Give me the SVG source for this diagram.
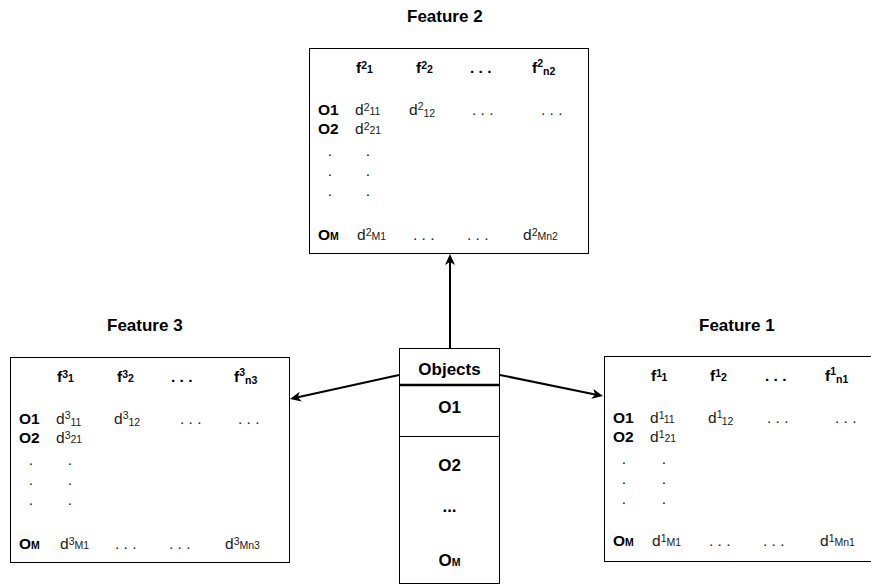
<svg xmlns="http://www.w3.org/2000/svg" width="871" height="586" viewBox="0 0 871 586">
<style>
.t{font-family:"Liberation Sans",Arial,Helvetica,sans-serif;fill:#000}
.b{font-weight:bold;font-size:15.5px}
.r{font-size:15.5px;fill:#1a1a1a}
.s{font-size:10.5px}
.title{font-weight:bold;font-size:17px}
.obj{font-weight:bold;font-size:17px;text-anchor:middle}
.m{text-anchor:middle}
.box{fill:#fff;stroke:#000;stroke-width:1}
.conn{fill:none;stroke:#000;stroke-width:2}
</style>
<defs>
<marker id="arr" markerUnits="userSpaceOnUse" viewBox="0 0 11 10" markerWidth="11" markerHeight="10" refX="3" refY="5" orient="auto">
<path d="M0,0 L11,5 L0,10 L3,5 Z" fill="#000"/>
</marker>
</defs>
<rect width="871" height="586" fill="#fff"/>

<g id="connectors">
<line class="conn" x1="450" y1="348" x2="450" y2="262" marker-end="url(#arr)"/>
<line class="conn" x1="399" y1="375" x2="297.8" y2="397.3" marker-end="url(#arr)"/>
<line class="conn" x1="500" y1="375" x2="595.2" y2="394.4" marker-end="url(#arr)"/>
</g>

<g id="feature2" transform="translate(309,48)">
<rect class="box" x="0.5" y="0.5" width="279" height="205"/>
<text class="t title" x="98" y="-26">Feature 2</text>
<text class="t b" x="47" y="25">f<tspan class="s" dy="-4.5">2</tspan><tspan class="s" dy="4.5">1</tspan></text>
<text class="t b" x="107" y="25">f<tspan class="s" dy="-4.5">2</tspan><tspan class="s" dy="4.5">2</tspan></text>
<text class="t b" x="161" y="25">. . .</text>
<text class="t b" x="223" y="25">f<tspan class="s" dy="-6">2</tspan><tspan class="s" dy="8">n2</tspan></text>
<text class="t b" x="9" y="67">O1</text>
<text class="t r" x="46" y="67">d<tspan class="s" dy="-4.5">2</tspan><tspan class="s" dy="4.5">11</tspan></text>
<text class="t r" x="100" y="67">d<tspan class="s" dy="-5.5">2</tspan><tspan class="s" dy="7.5">12</tspan></text>
<text class="t r" x="163" y="67">. . .</text>
<text class="t r" x="232" y="67">. . .</text>
<text class="t b" x="9" y="86">O2</text>
<text class="t r" x="46" y="86">d<tspan class="s" dy="-4.5">2</tspan><tspan class="s" dy="4.5">21</tspan></text>
<text class="t r m" x="21" y="108">.</text><text class="t r m" x="59" y="108">.</text>
<text class="t r m" x="21" y="128">.</text><text class="t r m" x="59" y="128">.</text>
<text class="t r m" x="21" y="148">.</text><text class="t r m" x="59" y="148">.</text>
<text class="t b" x="9" y="192">O<tspan class="s">M</tspan></text>
<text class="t r" x="48" y="192">d<tspan class="s" dy="-4.5">2</tspan><tspan class="s" dy="4.5">M1</tspan></text>
<text class="t r" x="104" y="192">. . .</text>
<text class="t r" x="158" y="192">. . .</text>
<text class="t r" x="214" y="192">d<tspan class="s" dy="-4.5">2</tspan><tspan class="s" dy="4.5">Mn2</tspan></text>
</g>

<g id="feature3" transform="translate(10,357)">
<rect class="box" x="0.5" y="0.5" width="279" height="205"/>
<text class="t title" x="97" y="-26">Feature 3</text>
<text class="t b" x="47" y="25">f<tspan class="s" dy="-4.5">3</tspan><tspan class="s" dy="4.5">1</tspan></text>
<text class="t b" x="107" y="25">f<tspan class="s" dy="-4.5">3</tspan><tspan class="s" dy="4.5">2</tspan></text>
<text class="t b" x="161" y="25">. . .</text>
<text class="t b" x="224" y="25">f<tspan class="s" dy="-6">3</tspan><tspan class="s" dy="8">n3</tspan></text>
<text class="t b" x="9" y="67">O1</text>
<text class="t r" x="46" y="67">d<tspan class="s" dy="-5.5">3</tspan><tspan class="s" dy="7.5">11</tspan></text>
<text class="t r" x="104" y="67">d<tspan class="s" dy="-5.5">3</tspan><tspan class="s" dy="7.5">12</tspan></text>
<text class="t r" x="170" y="67">. . .</text>
<text class="t r" x="228" y="67">. . .</text>
<text class="t b" x="9" y="86">O2</text>
<text class="t r" x="46" y="86">d<tspan class="s" dy="-4.5">3</tspan><tspan class="s" dy="4.5">21</tspan></text>
<text class="t r m" x="21" y="108">.</text><text class="t r m" x="60" y="108">.</text>
<text class="t r m" x="21" y="128">.</text><text class="t r m" x="60" y="128">.</text>
<text class="t r m" x="21" y="148">.</text><text class="t r m" x="60" y="148">.</text>
<text class="t b" x="9" y="192">O<tspan class="s">M</tspan></text>
<text class="t r" x="50" y="192">d<tspan class="s" dy="-4.5">3</tspan><tspan class="s" dy="4.5">M1</tspan></text>
<text class="t r" x="105" y="192">. . .</text>
<text class="t r" x="159" y="192">. . .</text>
<text class="t r" x="215" y="192">d<tspan class="s" dy="-4.5">3</tspan><tspan class="s" dy="4.5">Mn3</tspan></text>
</g>

<g id="feature1" transform="translate(604,356)">
<rect class="box" x="0.5" y="0.5" width="279" height="205"/>
<text class="t title" x="95" y="-25">Feature 1</text>
<text class="t b" x="47" y="25">f<tspan class="s" dy="-4.5">1</tspan><tspan class="s" dy="4.5">1</tspan></text>
<text class="t b" x="106" y="25">f<tspan class="s" dy="-4.5">1</tspan><tspan class="s" dy="4.5">2</tspan></text>
<text class="t b" x="161" y="25">. . .</text>
<text class="t b" x="221" y="25">f<tspan class="s" dy="-6">1</tspan><tspan class="s" dy="8">n1</tspan></text>
<text class="t b" x="9" y="67">O1</text>
<text class="t r" x="46" y="67">d<tspan class="s" dy="-4.5">1</tspan><tspan class="s" dy="4.5">11</tspan></text>
<text class="t r" x="104" y="67">d<tspan class="s" dy="-5.5">1</tspan><tspan class="s" dy="7.5">12</tspan></text>
<text class="t r" x="163" y="67">. . .</text>
<text class="t r" x="231" y="67">. . .</text>
<text class="t b" x="9" y="86">O2</text>
<text class="t r" x="46" y="86">d<tspan class="s" dy="-4.5">1</tspan><tspan class="s" dy="4.5">21</tspan></text>
<text class="t r m" x="20" y="108">.</text><text class="t r m" x="60" y="108">.</text>
<text class="t r m" x="20" y="128">.</text><text class="t r m" x="60" y="128">.</text>
<text class="t r m" x="20" y="148">.</text><text class="t r m" x="60" y="148">.</text>
<text class="t b" x="9" y="190">O<tspan class="s">M</tspan></text>
<text class="t r" x="48" y="190">d<tspan class="s" dy="-4.5">1</tspan><tspan class="s" dy="4.5">M1</tspan></text>
<text class="t r" x="105" y="190">. . .</text>
<text class="t r" x="159" y="190">. . .</text>
<text class="t r" x="216" y="190">d<tspan class="s" dy="-4.5">1</tspan><tspan class="s" dy="4.5">Mn1</tspan></text>
</g>

<g id="objects">
<rect class="box" x="399.5" y="348.5" width="100" height="235"/>
<line x1="399.5" y1="385" x2="499.5" y2="385" stroke="#000" stroke-width="2.5"/>
<line x1="399.5" y1="436.5" x2="499.5" y2="436.5" stroke="#000" stroke-width="1"/>
<text class="t obj" x="449.5" y="375">Objects</text>
<text class="t obj" x="449.5" y="413">O1</text>
<text class="t obj" x="449.5" y="471">O2</text>
<text class="t obj" x="449.5" y="512">...</text>
<text class="t obj" x="449.5" y="566">O<tspan class="s" font-size="11">M</tspan></text>
</g>
</svg>
